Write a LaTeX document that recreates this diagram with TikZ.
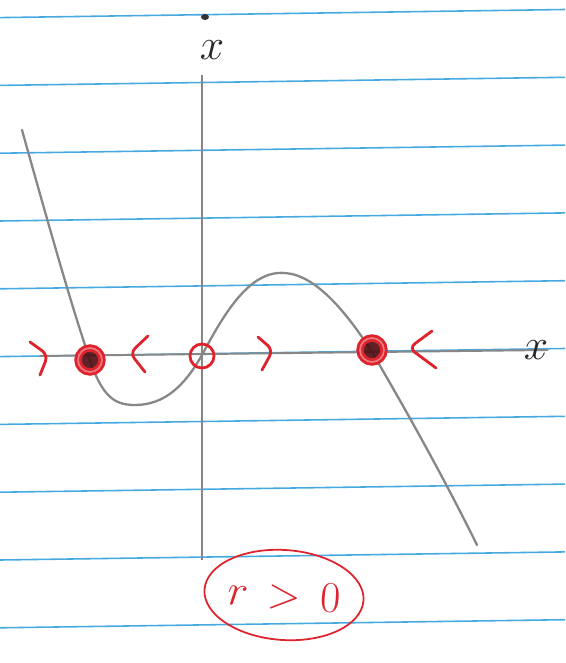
\documentclass[tikz,border=0pt]{standalone}
\usepackage{amsmath}
\usepackage{tikz}
\usetikzlibrary{shapes.geometric}
\definecolor{ruleblue}{RGB}{70,170,225}
\definecolor{penred}{RGB}{222,35,45}
\definecolor{pencil}{RGB}{135,135,135}

\begin{document}
\begin{tikzpicture}[x=0.02cm, y=-0.02cm,
  ruled/.style={draw=ruleblue, line width=0.9pt},
  axis/.style={draw=pencil, line width=1.1pt},
  curve/.style={draw=pencil, line width=1.3pt, line cap=round},
  flow/.style={draw=penred, line width=1.6pt, line cap=round, rounded corners=4pt},
  stablept/.style={circle, draw=penred, line width=1.6pt, minimum size=0.48cm,
                   inner sep=0pt, fill=penred!35!black, fill opacity=0.9,
                   double=penred!60, double distance=1pt},
  unstablept/.style={circle, draw=penred, line width=1.6pt, minimum size=0.48cm,
                     inner sep=0pt},
  lab/.style={font=\fontsize{28}{28}\selectfont, text=black!85},
  cond/.style={ellipse, draw=penred, line width=1pt, text=penred, inner sep=0pt,
                minimum width=3.15cm, minimum height=1.8cm, rotate=-4,
                font=\fontsize{24}{24}\selectfont}]
\useasboundingbox[fill=white] (0,0) rectangle (565,663);
% lined paper
\foreach \i in {0,...,9}
  \draw[ruled] (0,17.6+67.8*\i) -- (565,9.5+67.8*\i);

% axes
\coordinate (xl) at (40,356);
\coordinate (xr) at (548,350);
\coordinate (yt) at (202,75);
\coordinate (yb) at (202,560);
\draw[axis] (xl) -- (xr);
\draw[axis] (yt) -- (yb);
\node[lab] (xlab) at (536,350) {$x$};
\node[lab] (ylab) at (212,50) {$x$};
\fill[black!80] (205,17) ellipse (4 and 3);

% x dot = f(x)
\draw[curve] (22,130) .. controls (50,230) and (70,300) .. (85,345)
  .. controls (100,395) and (112,405) .. (135,405)
  .. controls (165,405) and (185,385) .. (202,355)
  .. controls (225,312) and (250,270) .. (285,273)
  .. controls (315,275) and (345,310) .. (372,352)
  .. controls (400,400) and (440,470) .. (477,545);

% fixed points
\node[stablept] (fpl) at (90,360) {};
\node[unstablept] (fpo) at (202,356) {};
\node[stablept] (fpr) at (372,350) {};

% flow directions
\draw[flow] (30,342) -- (48,355) -- (40,375);
\draw[flow] (148,336) -- (130,353) -- (145,372);
\draw[flow] (258,337) -- (273,350) -- (262,370);
\draw[flow] (432,331) -- (409,348) -- (436,368);

% parameter
\node[cond] (rpos) at (284,595) {$r\,>\,0$};
\end{tikzpicture}
\end{document}
